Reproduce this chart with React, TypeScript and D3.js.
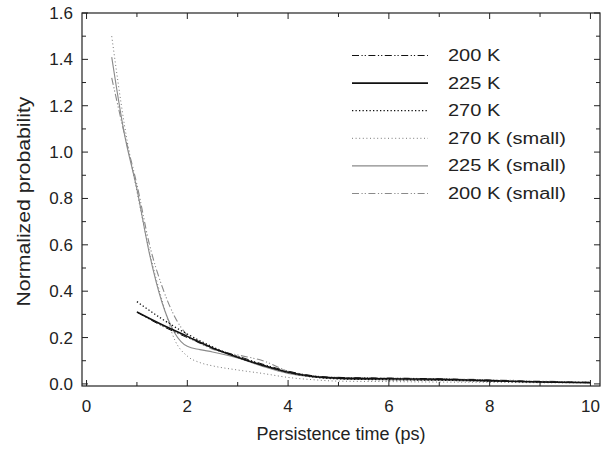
import React from "react";
import * as d3 from "d3";

const xTicks = [0, 2, 4, 6, 8, 10];
const yTicks = [0.0, 0.2, 0.4, 0.6, 0.8, 1.0, 1.2, 1.4, 1.6];

const xLarge = [1, 1.5, 2, 2.5, 3, 3.5, 4, 4.5, 5, 6, 7, 8, 9, 10];
const y200 = [0.31, 0.25, 0.2, 0.155, 0.12, 0.085, 0.055, 0.035, 0.028, 0.025, 0.022, 0.016, 0.01, 0.006];
const y225 = [0.31, 0.255, 0.205, 0.155, 0.115, 0.08, 0.05, 0.032, 0.025, 0.022, 0.02, 0.014, 0.008, 0.005];
const y270 = [0.355, 0.28, 0.215, 0.16, 0.115, 0.08, 0.05, 0.03, 0.022, 0.018, 0.016, 0.012, 0.008, 0.006];

const xSmall = [0.5, 0.75, 1, 1.25, 1.5, 1.75, 2, 2.25, 2.5, 3, 3.5, 4, 4.5, 5, 6, 7, 8, 9, 10];
const y270s = [1.5, 1.12, 0.83, 0.57, 0.36, 0.19, 0.12, 0.092, 0.078, 0.06, 0.045, 0.028, 0.018, 0.012, 0.01, 0.008, 0.007, 0.005, 0.004];
const y225s = [1.41, 1.08, 0.84, 0.56, 0.35, 0.22, 0.162, 0.148, 0.138, 0.112, 0.075, 0.045, 0.03, 0.022, 0.018, 0.015, 0.012, 0.008, 0.006];
const y200s = [1.32, 1.08, 0.86, 0.6, 0.42, 0.29, 0.21, 0.175, 0.15, 0.125, 0.1, 0.055, 0.035, 0.028, 0.025, 0.022, 0.018, 0.012, 0.008];

const labels = ["200 K", "225 K", "270 K", "270 K (small)", "225 K (small)", "200 K (small)"];

const W = 610, H = 450;
const L = 82, R = 600, T = 13, B = 386;

const DASHDOT = "7,2.5,1.2,2,1.2,2.5";

const seriesStyle = [
  { color: "#111", width: 1, dash: DASHDOT },
  { color: "#111", width: 1.6, dash: "none" },
  { color: "#111", width: 1.3, dash: "1.3,2.2" },
  { color: "#777", width: 1, dash: "1,2.6" },
  { color: "#8a8a8a", width: 1.1, dash: "none" },
  { color: "#8a8a8a", width: 1.1, dash: DASHDOT },
];

export default function App() {
  const x = d3.scaleLinear().domain([-0.09, 10.19]).range([L, R]);
  const y = d3.scaleLinear().domain([-0.009, 1.6]).range([B, T]);
  const line = d3
    .line<[number, number]>()
    .x((d) => x(d[0]))
    .y((d) => y(d[1]))
    .curve(d3.curveMonotoneX);

  const series: [number[], number[]][] = [
    [xLarge, y200],
    [xLarge, y225],
    [xLarge, y270],
    [xSmall, y270s],
    [xSmall, y225s],
    [xSmall, y200s],
  ];
  const order = [3, 4, 5, 2, 0, 1];

  const xMinor = d3.range(0, 10.01, 1);
  const yMinor = d3.range(0, 1.601, 0.1);
  const font = "'Liberation Sans', Arial, Helvetica, sans-serif";
  const tc = "#222";

  const legendY0 = 55.5;
  const legendStep = 27.6;

  return (
    <div style={{ position: "absolute", left: 0, top: 0 }}>
      <svg width={W} height={H} style={{ display: "block", background: "#fff" }}>
        <rect x={0} y={0} width={W} height={H} fill="#fff" />
        {order.map((i) => {
          const [xs, ys] = series[i];
          const pts = xs.map((v, k) => [v, ys[k]] as [number, number]);
          const s = seriesStyle[i];
          return (
            <path
              key={i}
              d={line(pts) || ""}
              fill="none"
              stroke={s.color}
              strokeWidth={s.width}
              strokeDasharray={s.dash}
            />
          );
        })}
        <rect x={L} y={T} width={R - L} height={B - T} fill="none" stroke="#222" strokeWidth={1.2} />
        {xMinor.map((v) => {
          const major = Math.round(v) % 2 === 0;
          const len = major ? 6 : 4;
          return (
            <g key={"xt" + v}>
              <line x1={x(v)} x2={x(v)} y1={B} y2={B - len} stroke="#222" strokeWidth={1} />
              <line x1={x(v)} x2={x(v)} y1={T} y2={T + len} stroke="#222" strokeWidth={1} />
            </g>
          );
        })}
        {yMinor.map((v, k) => {
          const major = k % 2 === 0;
          const len = major ? 6 : 4;
          return (
            <g key={"yt" + k}>
              <line x1={L} x2={L + len} y1={y(v)} y2={y(v)} stroke="#222" strokeWidth={1} />
              <line x1={R} x2={R - len} y1={y(v)} y2={y(v)} stroke="#222" strokeWidth={1} />
            </g>
          );
        })}
        {xTicks.map((v) => (
          <text key={"xl" + v} x={x(v)} y={412} textAnchor="middle" fontFamily={font} fontSize={17} fill={tc}>
            {v}
          </text>
        ))}
        {yTicks.map((v) => (
          <text key={"yl" + v} x={73} y={y(v) + 6} textAnchor="end" fontFamily={font} fontSize={17} fill={tc}>
            {v.toFixed(1)}
          </text>
        ))}
        <text x={(L + R) / 2} y={440} textAnchor="middle" fontFamily={font} fontSize={18} fill={tc}>
          Persistence time (ps)
        </text>
        <text
          transform={`translate(30, ${(T + B) / 2 + 2}) rotate(-90) scale(1.18,1)`}
          textAnchor="middle"
          fontFamily={font}
          fontSize={18}
          fill={tc}
        >
          Normalized probability
        </text>
        {labels.map((lab, i) => {
          const ly = legendY0 + i * legendStep;
          const s = seriesStyle[i];
          return (
            <g key={"lg" + i}>
              <line x1={352} x2={428} y1={ly} y2={ly} stroke={s.color} strokeWidth={s.width} strokeDasharray={s.dash} />
              <text
                transform={`translate(448, ${ly + 5.5}) scale(1.25,1)`}
                fontFamily={font}
                fontSize={16}
                fill={tc}
              >
                {lab}
              </text>
            </g>
          );
        })}
      </svg>
    </div>
  );
}
